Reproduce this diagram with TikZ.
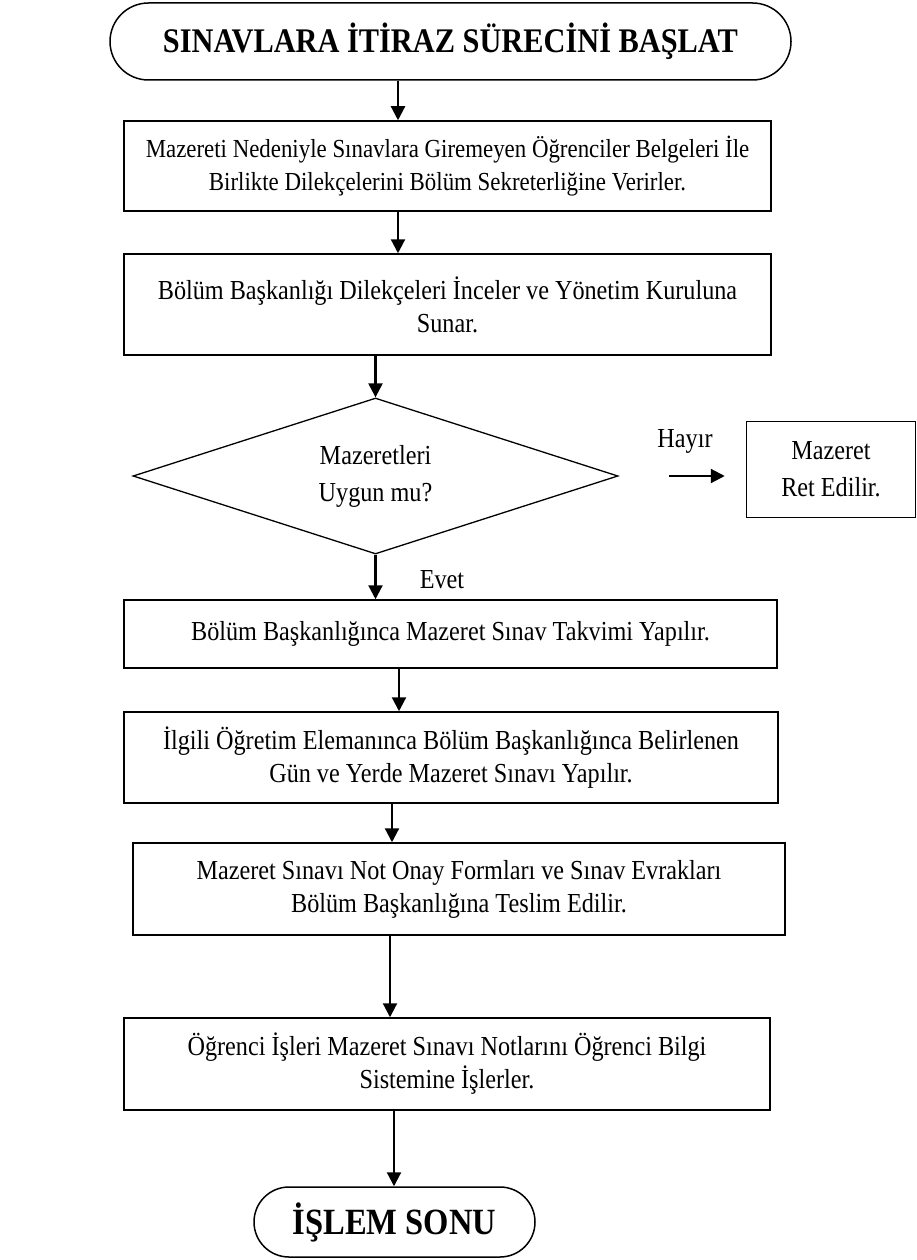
\documentclass[tikz,border=0pt]{standalone}
\usepackage{fontspec}
\setmainfont{Liberation Serif}[FakeStretch=0.88]
\usetikzlibrary{shapes.geometric, shapes.misc, arrows.meta}

\begin{document}
\begin{tikzpicture}
  [x=1pt, y=-1pt,
   every node/.style={font=\fontsize{27.5}{33}\selectfont},
   terminal/.style={rounded rectangle, draw=black, line width=1.5pt, inner sep=2pt},
   stepbox/.style={rectangle, draw=black, line width=1.5pt, align=center, inner sep=3pt},
   decision/.style={diamond, draw=black, line width=1.3pt, align=center, aspect=3.1, inner sep=0pt},
   flow/.style={-{Triangle[length=14pt, width=14pt]}, line width=2.2pt}]

  \useasboundingbox (0,0) rectangle (917,1260);

  \node[terminal, minimum width=685pt, minimum height=77pt, font=\fontsize{34.5}{40}\selectfont\bfseries] (st) at (450.5,41.5) {SINAVLARA İTİRAZ SÜRECİNİ BAŞLAT};
  \node[stepbox, minimum width=647pt, minimum height=90pt, font=\fontsize{26}{33}\selectfont] (b1) at (447.5,166) {Mazereti Nedeniyle Sınavlara Giremeyen Öğrenciler Belgeleri İle\\Birlikte Dilekçelerini Bölüm Sekreterliğine Verirler.};
  \node[stepbox, minimum width=647pt, minimum height=101pt] (b2) at (447.5,304.5) {Bölüm Başkanlığı Dilekçeleri İnceler ve Yönetim Kuruluna\\Sunar.};
  \node[decision, minimum width=485pt, minimum height=156pt, font=\fontsize{27.5}{37}\selectfont] (dec) at (375.5,476) {Mazeretleri\\Uygun mu?};
  \node[stepbox, minimum width=169pt, minimum height=96pt, font=\fontsize{27.5}{37}\selectfont] (rej) at (831,469.5) {Mazeret\\Ret Edilir.};
  \node[stepbox, minimum width=653pt, minimum height=68pt] (b3) at (450.5,634) {Bölüm Başkanlığınca Mazeret Sınav Takvimi Yapılır.};
  \node[stepbox, minimum width=654pt, minimum height=91pt] (b4) at (451,757.5) {İlgili Öğretim Elemanınca Bölüm Başkanlığınca Belirlenen\\Gün ve Yerde Mazeret Sınavı Yapılır.};
  \node[stepbox, minimum width=652pt, minimum height=92pt] (b5) at (459,889) {Mazeret Sınavı Not Onay Formları ve Sınav Evrakları\\Bölüm Başkanlığına Teslim Edilir.};
  \node[stepbox, minimum width=646pt, minimum height=92pt] (b6) at (447,1064) {Öğrenci İşleri Mazeret Sınavı Notlarını Öğrenci Bilgi\\Sistemine İşlerler.};
  \node[terminal, minimum width=285pt, minimum height=70pt, font=\fontsize{37}{42}\selectfont\bfseries] (en) at (394.5,1222) {İŞLEM SONU};

  \node (yes) at (442,580) {Evet};
  \node (no) at (685,441) {Hayır};

  \foreach \from/\to/\ax in {st/b1/398, b1/b2/398, b2/dec/375.5, dec/b3/375.5, b3/b4/399, b4/b5/392, b5/b6/390, b6/en/394}
    \draw[flow] (\from.south -| \ax,0) -- (\to.north -| \ax,0);

  \draw[flow, shorten <=50pt, shorten >=21pt] (dec.east) -- (dec.east -| rej.west);
\end{tikzpicture}
\end{document}
